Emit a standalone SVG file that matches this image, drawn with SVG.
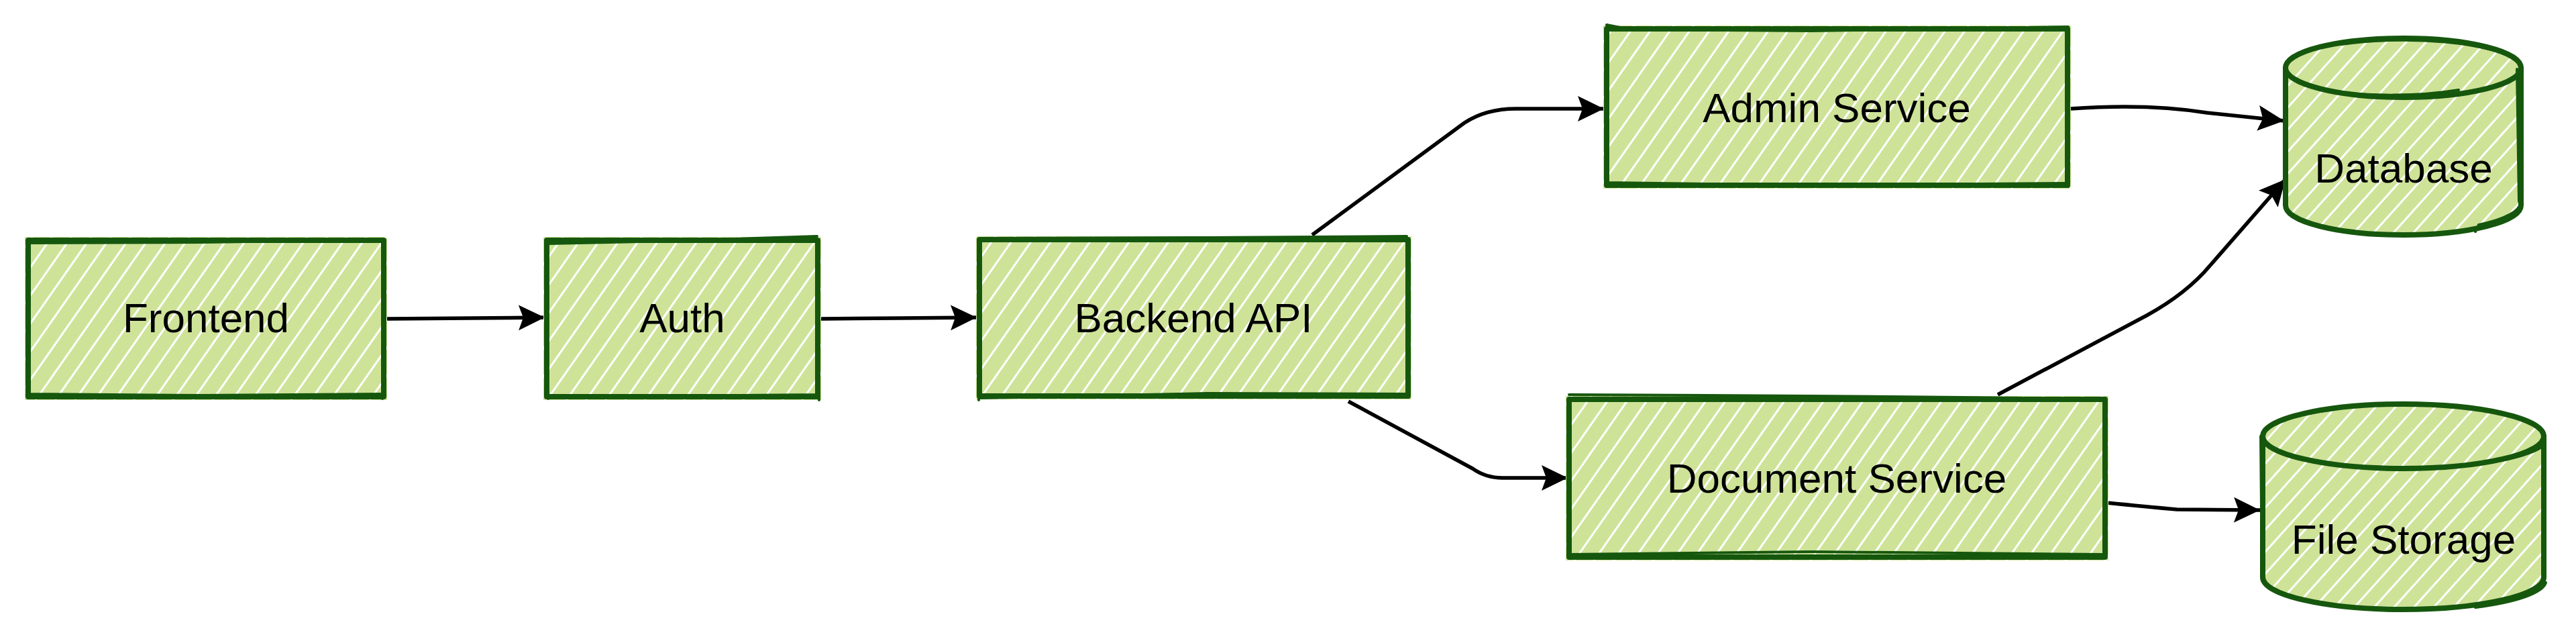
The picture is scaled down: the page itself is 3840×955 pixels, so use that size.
<svg xmlns="http://www.w3.org/2000/svg" width="3840" height="955" viewBox="0 0 3840 955">
<style>
.box{fill:url(#hatch);stroke:none}
.cyl{fill:url(#hatchC);stroke:none}
.edge{fill:none;stroke:#16570e;stroke-width:8;stroke-linejoin:round;stroke-linecap:round}
.sk{fill:none;stroke:#16570e;stroke-width:4;stroke-linecap:round}
.lbl{font-family:"Liberation Sans",Arial,sans-serif;font-size:62px;fill:#000;text-anchor:middle}
.conn{fill:none;stroke:#000;stroke-width:5.5;stroke-linejoin:round}
</style>
<defs>
<pattern id="hatch" patternUnits="userSpaceOnUse" width="24" height="24" patternTransform="rotate(35)">
<rect x="0" y="0" width="24" height="24" fill="#cee398"/>
<rect x="0" y="0" width="3" height="24" fill="#ffffff"/>
</pattern>
<pattern id="hatchC" patternUnits="userSpaceOnUse" width="22" height="22" patternTransform="rotate(42)">
<rect x="0" y="0" width="22" height="22" fill="#cee398"/>
<rect x="0" y="0" width="3" height="22" fill="#ffffff"/>
</pattern>
<marker id="arr" markerUnits="userSpaceOnUse" markerWidth="42" markerHeight="40" viewBox="0 0 42 40" refX="39" refY="20" orient="auto">
<path d="M0,1 L39,20 L0,39 L7,20 Z" fill="#000"/>
</marker>
</defs>

<g id="connectors">
<path class="conn" d="M576,475 L700,474 L812,473" marker-end="url(#arr)"/>
<path class="conn" d="M1223,475 L1340,474 L1456,473" marker-end="url(#arr)"/>
<path class="conn" d="M1956,350 L2183,183 Q2215,162 2260,162 L2391,162" marker-end="url(#arr)"/>
<path class="conn" d="M2010,598 L2195,698 Q2215,712 2240,712 L2337,712" marker-end="url(#arr)"/>
<path class="conn" d="M3086,162 C3170,156 3240,160 3290,168 L3405,180" marker-end="url(#arr)"/>
<path class="conn" d="M2978,588 L3200,470 C3240,448 3270,425 3295,395 L3407,267" marker-end="url(#arr)"/>
<path class="conn" d="M3140,749 Q3200,755 3245,759 L3369,760" marker-end="url(#arr)"/>
</g>

<g id="frontend">
<rect class="box" x="37" y="353" width="540" height="243"/>
<rect class="edge" x="42" y="358" width="530" height="233"/>
<path class="sk" d="M40,362 L300,361 L573,357 M570,356 L572,480 L570,594 M573,587 L300,589 L44,587 M44,593 L41,470 L44,356"/>
<text class="lbl" x="307" y="495">Frontend</text>
</g>

<g id="auth">
<rect class="box" x="810" y="353" width="414" height="243"/>
<rect class="edge" x="815" y="358" width="404" height="233"/>
<path class="sk" d="M817,363 L1000,359 L1218,352 M1217,356 L1220,480 L1221,596 M1220,588 L1000,590 L816,592 M817,594 L815,470 L817,356"/>
<text class="lbl" x="1017" y="495">Auth</text>
</g>

<g id="backend">
<rect class="box" x="1455" y="352" width="649" height="243"/>
<rect class="edge" x="1460" y="357" width="639" height="233"/>
<path class="sk" d="M1462,355 L1800,354 L2097,352 M2097,362 L2100,480 L2100,592 M2097,587 L1800,586 L1462,593 M1459,596 L1461,470 L1460,357"/>
<text class="lbl" x="1779" y="495">Backend API</text>
</g>

<g id="admin">
<rect class="box" x="2390" y="38" width="697" height="243"/>
<rect class="edge" x="2395" y="43" width="687" height="233"/>
<path class="sk" d="M2395,37 L2430,44 L2700,46 L3083,40 M3082,42 L3080,160 L3083,278 M3080,273 L2700,276 L2395,272 M2396,278 L2397,160 L2395,40"/>
<text class="lbl" x="2738" y="182">Admin Service</text>
</g>

<g id="document">
<rect class="box" x="2334" y="590" width="809" height="245"/>
<rect class="edge" x="2339" y="595" width="799" height="235"/>
<path class="sk" d="M2339,588 L2700,590 L3139,594 M3137,598 L3138,710 L3136,830 M3135,826 L2700,822 L2339,826 M2340,832 L2338,710 L2340,594"/>
<text class="lbl" x="2738" y="734">Document Service</text>
</g>

<g id="database">
<path class="cyl" d="M3407,101 L3407,306 A175.5,44 0 0 0 3758,306 L3758,101 A175.5,44 0 0 0 3407,101 Z"/>
<path class="edge" d="M3407,101 L3407,306 A175.5,44 0 0 0 3758,306 L3758,101"/>
<ellipse class="edge" cx="3582.5" cy="101" rx="175.5" ry="44"/>
<path class="sk" d="M3490,66 A175,42 0 0 1 3750,90 M3665,134 A175,42 0 0 1 3470,135 M3752,103 L3755,300 M3690,345 L3695,335 A175,44 0 0 0 3757,300"/>
<text class="lbl" x="3583" y="272">Database</text>
</g>

<g id="filestorage">
<path class="cyl" d="M3373,650 L3373,860 A209.5,48 0 0 0 3792,860 L3792,650 A209.5,48 0 0 0 3373,650 Z"/>
<path class="edge" d="M3373,650 L3373,860 A209.5,48 0 0 0 3792,860 L3792,650"/>
<ellipse class="edge" cx="3582.5" cy="650" rx="209.5" ry="48"/>
<path class="sk" d="M3375,640 A209,48 0 0 1 3480,610 M3680,693 A209,46 0 0 0 3790,665 M3370,650 L3372,860 M3690,905 A209,46 0 0 0 3795,868"/>
<text class="lbl" x="3583" y="825">File Storage</text>
</g>
</svg>
